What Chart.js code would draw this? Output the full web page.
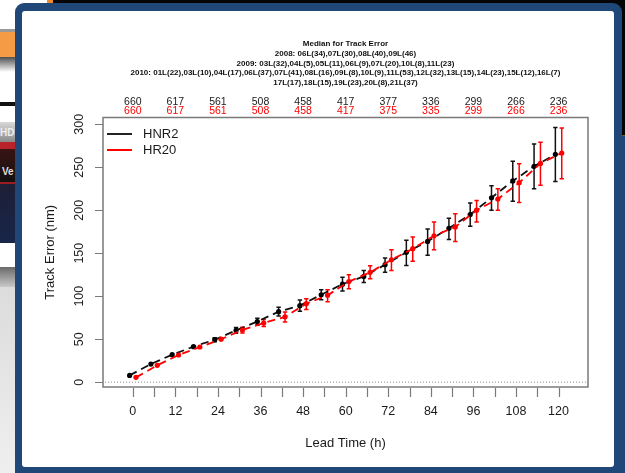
<!DOCTYPE html>
<html>
<head>
<meta charset="utf-8">
<script src="https://cdn.jsdelivr.net/npm/chart.js@4.4.0/dist/chart.umd.min.js"></script>
<style>
  html, body { margin:0; padding:0; width:625px; height:473px; overflow:hidden; background:#fff; font-family:"Liberation Sans", Arial, sans-serif; }
  .bg { position:absolute; overflow:hidden; }
  #wrap { position:absolute; left:0; top:0; width:625px; height:473px; }
</style>
</head>
<body>
<!-- bits of the screen behind the window -->
<div class="bg" style="left:0;top:29px;width:20px;height:3px;background:#9a9a9a"></div>
<div class="bg" style="left:0;top:32px;width:20px;height:25px;background:#f59a45"></div>
<div class="bg" style="left:0;top:57px;width:20px;height:15px;background:linear-gradient(#4e4e4e,#fff)"></div>
<div class="bg" style="left:0;top:102px;width:20px;height:4px;background:#111"></div>
<div class="bg" style="left:0;top:122px;width:20px;height:20px;background:linear-gradient(#d8d8d8,#8a8a8a);color:#eee;font:bold 10px 'Liberation Sans';line-height:22px">HD3</div>
<div class="bg" style="left:0;top:142px;width:20px;height:7px;background:#b8232b"></div>
<div class="bg" style="left:0;top:149px;width:20px;height:34px;background:linear-gradient(#3a1414,#111);color:#ddd;font:bold 10px 'Liberation Sans';line-height:46px;padding-left:2px">Ve</div>
<div class="bg" style="left:0;top:182px;width:20px;height:2px;background:#9b1d22"></div>
<div class="bg" style="left:0;top:184px;width:20px;height:59px;background:linear-gradient(#1d1f36,#18264a)"></div>
<div class="bg" style="left:0;top:267px;width:20px;height:20px;background:linear-gradient(#6a6a6a,#c8c8c8)"></div>
<div class="bg" style="left:0;top:287px;width:20px;height:186px;background:linear-gradient(#dcdcdc,#efefef)"></div>
<div class="bg" style="left:47px;top:0;width:6px;height:4px;background:#f08a2a"></div>
<div class="bg" style="left:53px;top:0;width:572px;height:135px;background:#050505"></div>
<div class="bg" style="left:622px;top:135px;width:3px;height:1px;background:#7a5a2a"></div>
<div class="bg" style="left:622px;top:136px;width:3px;height:337px;background:#1f4879"></div>
<!-- the window -->
<div class="bg" style="left:15px;top:3px;width:607px;height:480px;background:#1f4879;border-radius:9px 9px 0 0"></div>
<div class="bg" style="left:22px;top:11px;width:592px;height:456px;background:#fff;border-radius:3px"></div>
<div id="wrap"><canvas id="myChart" width="625" height="473"></canvas></div>
<script>
const hours = [0, 6, 12, 18, 24, 30, 36, 42, 48, 54, 60, 66, 72, 78, 84, 90, 96, 102, 108, 114, 120]
const hnr2 = [7.9, 21.1, 32, 41.3, 49.4, 60.3, 70.5, 82, 89, 101.7, 114, 123, 136.6, 151, 163.7, 179, 195, 214.5, 234, 251, 265]
const hnr2Low = [7, 20, 30.5, 39.5, 47, 57, 66.5, 77, 82.5, 96, 106, 116, 127.7, 135.8, 147.5, 166, 181.2, 199.8, 210.3, 225, 233.5]
const hnr2High = [8.8, 22.2, 33.5, 43, 51.8, 63.5, 74.3, 87, 95.5, 107.5, 122, 130, 144.4, 165, 178, 190.5, 208.4, 228.5, 256.8, 277, 296.3]
const hr20 = [5.6, 19.6, 31.6, 40.9, 50, 60.7, 68.8, 76, 91.3, 101, 117, 127.7, 142.4, 155.2, 170.3, 180.5, 200, 213, 232, 254.4, 266.5]
const hr20Low = [5, 19, 30.5, 39.5, 48, 57.3, 64.8, 70, 84.5, 93.6, 108.7, 120.3, 130, 140.5, 154, 163.7, 186.3, 199.8, 209, 228.9, 236.6]
const hr20High = [6.3, 20.3, 32.8, 42.3, 52, 64, 72.9, 81.5, 97, 107.5, 125, 135.5, 154, 168.8, 186.3, 196, 211.4, 225, 254, 278.9, 295.5]

const labelHours = [0, 12, 24, 36, 48, 60, 72, 84, 96, 108, 120]
const hnr2Counts = [660, 617, 561, 508, 458, 417, 377, 336, 299, 266, 236]
const hr20Counts = [660, 617, 561, 508, 458, 417, 375, 335, 299, 266, 236]
const yTicks = [0, 50, 100, 150, 200, 250, 300]

const titleLines = [
  'Median for Track Error',
  '2008: 06L(34),07L(30),08L(40),09L(46)',
  '2009: 03L(32),04L(5),05L(11),06L(9),07L(20),10L(8),11L(23)',
  '2010: 01L(22),03L(10),04L(17),06L(37),07L(41),08L(16),09L(8),10L(9),11L(53),12L(32),13L(15),14L(23),15L(12),16L(7)',
  '17L(17),18L(15),19L(23),20L(8),21L(37)'
]
const seriesNames = ['HNR2', 'HR20']
const seriesColors = ['#000000', '#ff0000']

// the two models are drawn a little to each side of the lead time
const shift = 0.9
const font = '"Liberation Sans", Arial, sans-serif'

const toPoints = function (vals, dx) {
  return vals.map((v, i) => ({x: hours[i] + dx, y: v}))
}

const rStyle = {
  id: 'rStyle',
  beforeDatasetsDraw(chart) {
    const {ctx, chartArea: a, scales: {x, y}} = chart
    ctx.save()
    // dotted zero line
    const y0 = y.getPixelForValue(0)
    ctx.strokeStyle = '#8a8a8a'
    ctx.lineWidth = 1
    ctx.setLineDash([1, 2])
    ctx.beginPath()
    ctx.moveTo(a.left + 2, y0)
    ctx.lineTo(a.right - 2, y0)
    ctx.stroke()
    ctx.setLineDash([])
    // error bars
    const bars = [[hnr2Low, hnr2High, -shift], [hr20Low, hr20High, shift]]
    bars.forEach(([lo, hi, dx], k) => {
      ctx.strokeStyle = seriesColors[k] === '#000000' ? '#111' : seriesColors[k]
      ctx.lineWidth = 1.5
      hours.forEach((h, i) => {
        const px = x.getPixelForValue(h + dx)
        const p1 = y.getPixelForValue(lo[i])
        const p2 = y.getPixelForValue(hi[i])
        if (p1 - p2 < 4) return
        ctx.beginPath()
        ctx.moveTo(px, p1); ctx.lineTo(px, p2)
        ctx.moveTo(px - 2.2, p1); ctx.lineTo(px + 2.2, p1)
        ctx.moveTo(px - 2.2, p2); ctx.lineTo(px + 2.2, p2)
        ctx.stroke()
      })
    })
    ctx.restore()
  },
  afterDraw(chart) {
    const {ctx, chartArea: a, scales: {x, y}} = chart
    ctx.save()
    // box
    ctx.strokeStyle = '#7a7a7a'
    ctx.lineWidth = 1.5
    ctx.strokeRect(a.left, a.top, a.right - a.left, a.bottom - a.top)
    // x ticks
    ctx.beginPath()
    hours.forEach(h => {
      const px = Math.round(x.getPixelForValue(h)) + 0.5
      ctx.moveTo(px, a.bottom + 1)
      ctx.lineTo(px, a.bottom + 10)
    })
    // y ticks
    yTicks.forEach(v => {
      const py = Math.round(y.getPixelForValue(v)) + 0.5
      ctx.moveTo(a.left - 8, py)
      ctx.lineTo(a.left, py)
    })
    ctx.lineWidth = 1.2
    ctx.stroke()

    ctx.fillStyle = '#1a1a1a'
    ctx.font = '12.5px ' + font
    ctx.textAlign = 'center'
    ctx.textBaseline = 'middle'
    labelHours.forEach(h => {
      ctx.fillText(String(h), x.getPixelForValue(h), a.bottom + 25)
    })
    yTicks.forEach(v => {
      ctx.save()
      ctx.translate(a.left - 23, y.getPixelForValue(v))
      ctx.rotate(-Math.PI / 2)
      ctx.fillText(String(v), 0, 0)
      ctx.restore()
    })
    // axis titles
    ctx.font = '13px ' + font
    const cx = (a.left + a.right) / 2
    ctx.fillText('Lead Time (h)', cx, a.bottom + 56)
    ctx.save()
    ctx.translate(a.left - 53, (a.top + a.bottom) / 2)
    ctx.rotate(-Math.PI / 2)
    ctx.fillText('Track Error (nm)', 0, 0)
    ctx.restore()

    // case counts above the box
    ctx.font = '10.5px ' + font
    labelHours.forEach((h, i) => {
      const px = x.getPixelForValue(h)
      ctx.fillStyle = '#1a1a1a'
      ctx.fillText(String(hnr2Counts[i]), px, a.top - 15)
      ctx.fillStyle = '#ff0000'
      ctx.fillText(String(hr20Counts[i]), px, a.top - 6)
    })

    // title
    ctx.fillStyle = '#111'
    ctx.font = 'bold 8px ' + font
    titleLines.forEach((t, i) => {
      ctx.fillText(t, cx, a.top - 73.5 + i * 9.7)
    })

    // legend
    ctx.font = '13px ' + font
    ctx.textAlign = 'left'
    seriesNames.forEach((n, i) => {
      const ly = a.top + 16.5 + i * 16
      ctx.strokeStyle = i === 0 ? '#222' : seriesColors[i]
      ctx.lineWidth = 2
      ctx.beginPath()
      ctx.moveTo(a.left + 4, ly)
      ctx.lineTo(a.left + 29, ly)
      ctx.stroke()
      ctx.fillStyle = '#1a1a1a'
      ctx.fillText(n, a.left + 40, ly + 0.5)
    })
    ctx.restore()
  }
}

const ctx = document.getElementById('myChart').getContext('2d')
const chart = new Chart(ctx, {
  type: 'line',
  data: {
    datasets: [{
      label: seriesNames[0],
      data: toPoints(hnr2, -shift),
      borderColor: '#111',
      backgroundColor: '#000',
      borderWidth: 1.8,
      borderDash: [8, 5],
      pointRadius: 2.6,
      pointBorderWidth: 0,
      pointBackgroundColor: '#000',
      order: 2
    }, {
      label: seriesNames[1],
      data: toPoints(hr20, shift),
      borderColor: seriesColors[1],
      backgroundColor: seriesColors[1],
      borderWidth: 1.8,
      borderDash: [8, 5],
      pointRadius: 2.6,
      pointBorderWidth: 0,
      pointBackgroundColor: seriesColors[1],
      order: 1
    }]
  },
  options: {
    responsive: false,
    animation: false,
    events: [],
    layout: {
      padding: {left: 103, top: 117.5, right: 37, bottom: 86}
    },
    plugins: {
      legend: {display: false},
      tooltip: {enabled: false},
      title: {display: false}
    },
    scales: {
      x: {type: 'linear', min: -8.4, max: 128.3, display: false},
      y: {type: 'linear', min: -5.6, max: 307.8, display: false}
    }
  },
  plugins: [rStyle]
})
</script>
</body>
</html>
